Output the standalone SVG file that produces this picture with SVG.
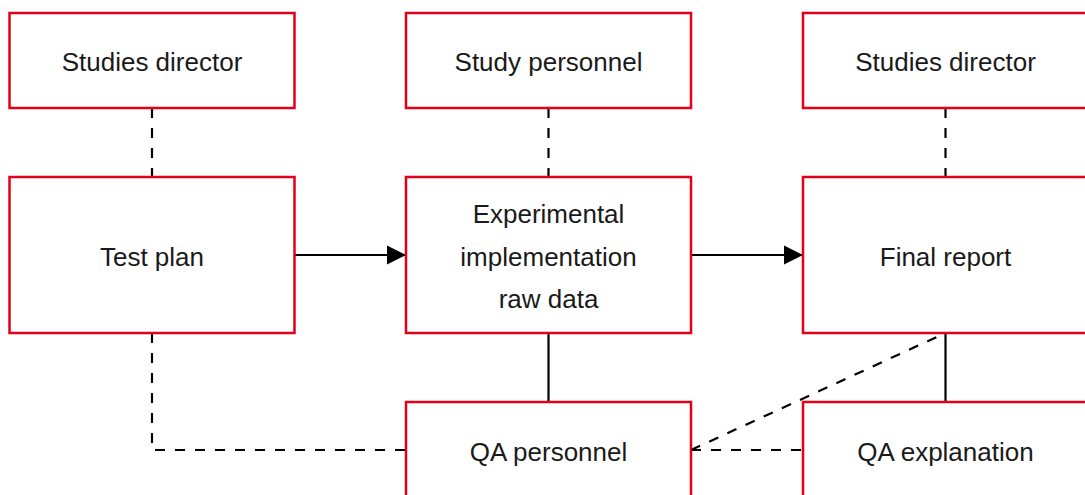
<svg xmlns="http://www.w3.org/2000/svg" width="1085" height="495" viewBox="0 0 1085 495">
  <defs>
    <style>
      .box { fill: #ffffff; stroke: #e2001a; stroke-width: 2.5; }
      .lbl { font-family: "Liberation Sans", Arial, sans-serif; font-size: 26px; fill: #1a1a1a; text-anchor: middle; }
      .solid { fill: none; stroke: #000000; stroke-width: 2.2; }
      .dash { fill: none; stroke: #000000; stroke-width: 2.2; stroke-dasharray: 10 10; }
    </style>
    <marker id="arrow" viewBox="0 0 10 10" refX="10" refY="5" markerUnits="userSpaceOnUse" markerWidth="19" markerHeight="20" orient="auto">
      <path d="M0,0 L10,5 L0,10 Z" fill="#000000"/>
    </marker>
  </defs>
  <rect width="1085" height="495" fill="#ffffff"/>

  <g id="connectors">
    <line class="dash" x1="152" y1="108" x2="152" y2="177"/>
    <line class="dash" x1="548.5" y1="108" x2="548.5" y2="177"/>
    <line class="dash" x1="945.5" y1="108" x2="945.5" y2="177"/>
    <line class="solid" x1="294.5" y1="255" x2="406" y2="255" marker-end="url(#arrow)"/>
    <line class="solid" x1="691" y1="255" x2="803" y2="255" marker-end="url(#arrow)"/>
    <line class="solid" x1="548.5" y1="333" x2="548.5" y2="402"/>
    <line class="solid" x1="945.5" y1="333" x2="945.5" y2="402"/>
    <polyline class="dash" points="152,333 152,450 406,450"/>
    <line class="dash" x1="691" y1="450" x2="803" y2="450"/>
    <line class="dash" x1="691" y1="450" x2="945.5" y2="333"/>
  </g>

  <g id="n-studies-director-1">
    <rect class="box" x="9.5" y="13" width="285" height="95"/>
    <text class="lbl" x="152" y="70.5">Studies director</text>
  </g>
  <g id="n-study-personnel">
    <rect class="box" x="406" y="13" width="285" height="95"/>
    <text class="lbl" x="548.5" y="70.5">Study personnel</text>
  </g>
  <g id="n-studies-director-2">
    <rect class="box" x="803" y="13" width="285" height="95"/>
    <text class="lbl" x="945.5" y="70.5">Studies director</text>
  </g>
  <g id="n-test-plan">
    <rect class="box" x="9.5" y="177" width="285" height="156"/>
    <text class="lbl" x="152" y="265.5">Test plan</text>
  </g>
  <g id="n-experimental">
    <rect class="box" x="406" y="177" width="285" height="156"/>
    <text class="lbl" x="548.5" y="223">Experimental</text>
    <text class="lbl" x="548.5" y="265.5">implementation</text>
    <text class="lbl" x="548.5" y="308">raw data</text>
  </g>
  <g id="n-final-report">
    <rect class="box" x="803" y="177" width="285" height="156"/>
    <text class="lbl" x="945.5" y="265.5">Final report</text>
  </g>
  <g id="n-qa-personnel">
    <rect class="box" x="406" y="402" width="285" height="120"/>
    <text class="lbl" x="548.5" y="461">QA personnel</text>
  </g>
  <g id="n-qa-explanation">
    <rect class="box" x="803" y="402" width="285" height="120"/>
    <text class="lbl" x="945.5" y="461">QA explanation</text>
  </g>
</svg>
